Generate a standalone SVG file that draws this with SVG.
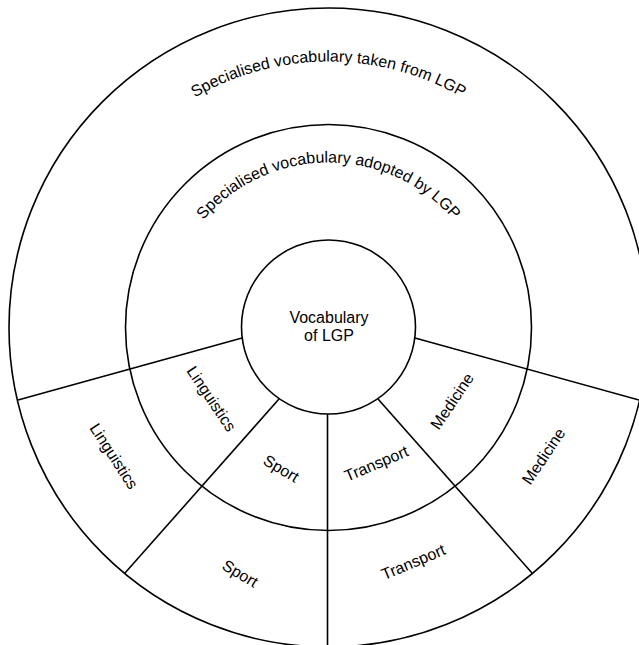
<svg xmlns="http://www.w3.org/2000/svg" width="639" height="645" viewBox="0 0 639 645">
<defs>
<style>
.ring{fill:none;stroke:#000;stroke-width:1.6}
.inner{fill:#fff;stroke:#000;stroke-width:1.6}
.div{stroke:#000;stroke-width:1.6;fill:none}
text{font-family:"Liberation Sans",Arial,sans-serif;font-size:16px;fill:#000}
.lbl{text-anchor:middle}
</style>
<path id="arcOuter" d="M 62.5 327.5 A 266 266 0 0 1 594.5 327.5"/>
<path id="arcMid" d="M 163.5 327.5 A 165 165 0 0 1 493.5 327.5"/>
</defs>
<rect width="639" height="645" fill="#fff"/>
<g id="outer-ring">
<circle class="ring" cx="328.5" cy="327.5" r="319.5"/>
<text><textPath href="#arcOuter" startOffset="50%" text-anchor="middle">Specialised vocabulary taken from LGP</textPath></text>
</g>
<g id="middle-ring">
<circle class="ring" cx="328.5" cy="327.5" r="203"/>
<text><textPath href="#arcMid" startOffset="50%" text-anchor="middle">Specialised vocabulary adopted by LGP</textPath></text>
</g>
<g id="connectors">
<line class="div" x1="242" y1="338" x2="18" y2="400"/>
<line class="div" x1="415" y1="338" x2="639" y2="400"/>
<line class="div" x1="279" y1="399" x2="125" y2="573"/>
<line class="div" x1="378" y1="399" x2="532" y2="573"/>
<line class="div" x1="327.5" y1="414" x2="327.5" y2="645"/>
</g>
<g id="center">
<circle class="inner" cx="328.5" cy="327" r="87"/>
<text class="lbl" x="329" y="323">Vocabulary</text>
<text class="lbl" x="329" y="341">of LGP</text>
</g>
<g id="linguistics-inner"><text class="lbl" transform="translate(211 399) rotate(56)" y="5">Linguistics</text></g>
<g id="linguistics-outer"><text class="lbl" transform="translate(113.5 456.5) rotate(57)" y="5">Linguistics</text></g>
<g id="sport-inner"><text class="lbl" transform="translate(281 469) rotate(31)" y="5">Sport</text></g>
<g id="sport-outer"><text class="lbl" transform="translate(240 574) rotate(31)" y="5">Sport</text></g>
<g id="transport-inner"><text class="lbl" transform="translate(376.5 464) rotate(-23)" y="5">Transport</text></g>
<g id="transport-outer"><text class="lbl" transform="translate(413.5 562.5) rotate(-23)" y="5">Transport</text></g>
<g id="medicine-inner"><text class="lbl" transform="translate(452.5 401.5) rotate(-56)" y="5">Medicine</text></g>
<g id="medicine-outer"><text class="lbl" transform="translate(544 456.5) rotate(-56)" y="5">Medicine</text></g>
</svg>
